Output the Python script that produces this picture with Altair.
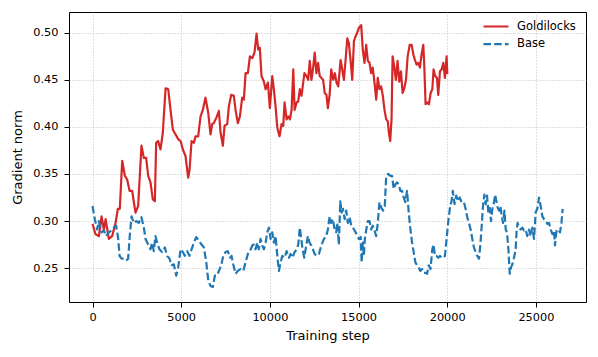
import altair as alt
import pandas as pd

gold_steps = [0, 170, 360, 510, 640, 740, 920, 1110, 1300, 1430, 1540, 1675, 1825, 1955, 2090, 2240, 2330, 2425, 2575, 2760, 2895, 3025, 3140, 3270, 3400, 3515, 3590, 3700, 3835, 3965, 4120, 4270, 4400, 4530, 4680, 4830, 4965, 5095, 5245, 5395, 5475, 5585, 5715, 5810, 5960, 6090, 6220, 6370, 6525, 6655, 6750, 6840, 6990, 7125, 7220, 7350, 7445, 7595, 7690, 7820, 7970, 8065, 8195, 8310, 8440, 8535, 8630, 8760, 8875, 9010, 9135, 9250, 9345, 9435, 9530, 9665, 9760, 9890, 10000, 10135, 10225, 10320, 10420, 10545, 10660, 10755, 10830, 10945, 11040, 11130, 11225, 11320, 11395, 11510, 11600, 11690, 11785, 11880, 11950, 12065, 12160, 12250, 12345, 12440, 12530, 12625, 12720, 12810, 12905, 13000, 13095, 13190, 13270, 13370, 13460, 13575, 13665, 13760, 13855, 13990, 14080, 14175, 14270, 14365, 14455, 14550, 14645, 14740, 14830, 14925, 15015, 15150, 15240, 15335, 15430, 15525, 15620, 15710, 15800, 15900, 15995, 16085, 16180, 16275, 16370, 16465, 16560, 16650, 16710, 16785, 16860, 16920, 17015, 17105, 17200, 17295, 17390, 17485, 17580, 17675, 17770, 17885, 17995, 18090, 18180, 18275, 18370, 18460, 18555, 18650, 18705, 18780, 18880, 18970, 19065, 19160, 19230, 19325, 19420, 19495, 19590, 19685, 19780, 19870, 19965, 20005]
gold_vals = [0.297, 0.286, 0.284, 0.305, 0.291, 0.302, 0.281, 0.284, 0.298, 0.313, 0.313, 0.364, 0.348, 0.344, 0.332, 0.332, 0.320, 0.309, 0.316, 0.380, 0.367, 0.367, 0.348, 0.341, 0.323, 0.321, 0.383, 0.385, 0.376, 0.394, 0.441, 0.440, 0.418, 0.397, 0.392, 0.387, 0.385, 0.376, 0.369, 0.346, 0.355, 0.385, 0.383, 0.390, 0.390, 0.411, 0.418, 0.431, 0.415, 0.392, 0.403, 0.404, 0.410, 0.417, 0.394, 0.380, 0.401, 0.403, 0.422, 0.434, 0.433, 0.418, 0.404, 0.411, 0.431, 0.429, 0.457, 0.457, 0.475, 0.473, 0.479, 0.499, 0.482, 0.484, 0.454, 0.448, 0.440, 0.447, 0.420, 0.454, 0.440, 0.422, 0.399, 0.390, 0.403, 0.401, 0.426, 0.408, 0.411, 0.408, 0.418, 0.461, 0.418, 0.426, 0.427, 0.440, 0.433, 0.447, 0.457, 0.454, 0.450, 0.470, 0.450, 0.463, 0.479, 0.457, 0.468, 0.454, 0.452, 0.450, 0.436, 0.434, 0.420, 0.434, 0.461, 0.450, 0.457, 0.447, 0.443, 0.471, 0.461, 0.450, 0.471, 0.494, 0.489, 0.471, 0.450, 0.491, 0.496, 0.500, 0.505, 0.508, 0.482, 0.468, 0.487, 0.470, 0.468, 0.457, 0.463, 0.447, 0.429, 0.452, 0.440, 0.443, 0.433, 0.418, 0.408, 0.406, 0.394, 0.385, 0.408, 0.475, 0.464, 0.450, 0.470, 0.448, 0.459, 0.436, 0.441, 0.450, 0.475, 0.487, 0.487, 0.477, 0.471, 0.466, 0.468, 0.463, 0.477, 0.487, 0.466, 0.424, 0.426, 0.424, 0.436, 0.440, 0.461, 0.454, 0.452, 0.434, 0.459, 0.461, 0.468, 0.452, 0.475, 0.456]

base_steps = [0, 130, 265, 355, 510, 640, 770, 920, 1070, 1200, 1335, 1450, 1525, 1640, 1765, 1900, 2010, 2100, 2200, 2330, 2465, 2610, 2760, 2895, 2990, 3140, 3270, 3365, 3455, 3550, 3645, 3775, 3925, 4080, 4210, 4345, 4455, 4585, 4720, 4835, 4965, 5095, 5205, 5340, 5470, 5585, 5715, 5850, 5995, 6150, 6280, 6415, 6525, 6655, 6785, 6900, 7030, 7125, 7260, 7370, 7500, 7630, 7745, 7840, 7935, 8065, 8195, 8345, 8500, 8630, 8760, 8875, 9010, 9100, 9195, 9290, 9380, 9475, 9570, 9665, 9760, 9855, 9945, 10040, 10135, 10225, 10320, 10420, 10510, 10605, 10700, 10830, 10945, 11075, 11170, 11280, 11395, 11510, 11600, 11690, 11770, 11845, 11940, 12035, 12145, 12240, 12335, 12430, 12525, 12640, 12765, 12900, 13050, 13180, 13270, 13370, 13460, 13555, 13650, 13745, 13800, 13890, 13970, 14045, 14120, 14215, 14310, 14400, 14495, 14590, 14685, 14780, 14890, 15020, 15120, 15175, 15240, 15300, 15355, 15430, 15525, 15620, 15710, 15800, 15900, 15995, 16085, 16180, 16290, 16385, 16480, 16560, 16670, 16800, 16890, 16985, 17080, 17170, 17265, 17360, 17455, 17545, 17640, 17735, 17830, 17925, 18020, 18110, 18205, 18300, 18390, 18485, 18580, 18675, 18770, 18865, 18960, 19055, 19160, 19230, 19305, 19400, 19495, 19590, 19685, 19780, 19870, 19965, 20050, 20145, 20240, 20315, 20415, 20510, 20600, 20700, 20810, 20940, 21035, 21130, 21225, 21320, 21415, 21505, 21600, 21695, 21790, 21865, 21945, 22015, 22095, 22170, 22245, 22320, 22395, 22470, 22545, 22620, 22700, 22775, 22850, 22925, 23000, 23075, 23150, 23225, 23300, 23370, 23450, 23525, 23600, 23675, 23765, 23860, 23915, 23970, 24045, 24140, 24235, 24325, 24420, 24515, 24610, 24705, 24800, 24895, 24985, 25080, 25175, 25270, 25365, 25460, 25555, 25650, 25740, 25835, 25930, 26020, 26075, 26170, 26270, 26360, 26440, 26510]
base_vals = [0.316, 0.302, 0.291, 0.300, 0.288, 0.290, 0.284, 0.288, 0.290, 0.293, 0.295, 0.281, 0.263, 0.260, 0.260, 0.258, 0.260, 0.284, 0.305, 0.298, 0.300, 0.298, 0.304, 0.293, 0.281, 0.275, 0.270, 0.277, 0.268, 0.284, 0.277, 0.270, 0.267, 0.272, 0.263, 0.260, 0.253, 0.254, 0.242, 0.251, 0.270, 0.267, 0.263, 0.268, 0.263, 0.270, 0.277, 0.283, 0.279, 0.275, 0.272, 0.256, 0.237, 0.231, 0.230, 0.242, 0.242, 0.247, 0.253, 0.263, 0.267, 0.268, 0.261, 0.263, 0.254, 0.244, 0.247, 0.249, 0.247, 0.256, 0.265, 0.268, 0.274, 0.275, 0.270, 0.277, 0.270, 0.281, 0.274, 0.270, 0.277, 0.288, 0.293, 0.281, 0.288, 0.277, 0.284, 0.263, 0.247, 0.256, 0.263, 0.261, 0.268, 0.261, 0.265, 0.261, 0.267, 0.270, 0.275, 0.293, 0.281, 0.270, 0.261, 0.272, 0.284, 0.277, 0.274, 0.270, 0.265, 0.263, 0.265, 0.274, 0.281, 0.284, 0.291, 0.305, 0.298, 0.302, 0.291, 0.288, 0.298, 0.275, 0.321, 0.309, 0.313, 0.302, 0.311, 0.298, 0.304, 0.295, 0.293, 0.290, 0.286, 0.281, 0.283, 0.256, 0.277, 0.263, 0.281, 0.290, 0.300, 0.300, 0.291, 0.295, 0.290, 0.284, 0.298, 0.320, 0.314, 0.311, 0.316, 0.348, 0.350, 0.348, 0.348, 0.334, 0.339, 0.341, 0.339, 0.332, 0.332, 0.325, 0.320, 0.332, 0.309, 0.291, 0.277, 0.267, 0.256, 0.253, 0.251, 0.247, 0.249, 0.245, 0.245, 0.244, 0.253, 0.249, 0.270, 0.275, 0.263, 0.263, 0.261, 0.263, 0.261, 0.261, 0.263, 0.281, 0.298, 0.313, 0.321, 0.332, 0.318, 0.327, 0.321, 0.325, 0.320, 0.320, 0.313, 0.304, 0.298, 0.291, 0.281, 0.272, 0.267, 0.263, 0.260, 0.274, 0.295, 0.316, 0.328, 0.318, 0.327, 0.309, 0.314, 0.300, 0.313, 0.318, 0.328, 0.321, 0.314, 0.311, 0.316, 0.305, 0.298, 0.311, 0.291, 0.288, 0.270, 0.244, 0.251, 0.254, 0.261, 0.270, 0.291, 0.298, 0.293, 0.291, 0.293, 0.290, 0.291, 0.284, 0.291, 0.284, 0.293, 0.281, 0.309, 0.313, 0.325, 0.316, 0.305, 0.302, 0.300, 0.297, 0.298, 0.291, 0.286, 0.290, 0.274, 0.291, 0.290, 0.288, 0.298, 0.313]

series_names = ["Goldilocks", "Base"]
series_colors = ["#d62728", "#1f77b4"]
x_ticks = [0, 5000, 10000, 15000, 20000, 25000]
y_ticks = [0.25, 0.30, 0.35, 0.40, 0.45, 0.50]

df = pd.concat([
    pd.DataFrame({"step": gold_steps, "value": gold_vals, "series": "Goldilocks", "order": range(len(gold_steps))}),
    pd.DataFrame({"step": base_steps, "value": base_vals, "series": "Base", "order": range(len(base_steps))}),
], ignore_index=True)

FONT = "DejaVu Sans"

chart = alt.Chart(df).mark_line(strokeWidth=2.2, strokeJoin="round", clip=True).encode(
    x=alt.X("step:Q", title="Training step",
            scale=alt.Scale(domain=[-1325, 27825], nice=False, zero=False),
            axis=alt.Axis(values=x_ticks, format="d", titlePadding=7)),
    y=alt.Y("value:Q", title="Gradient norm",
            scale=alt.Scale(domain=[0.214, 0.522], nice=False, zero=False),
            axis=alt.Axis(values=y_ticks, format=".2f", titlePadding=8)),
    color=alt.Color("series:N", title=None,
                    scale=alt.Scale(domain=series_names, range=series_colors),
                    sort=series_names),
    strokeDash=alt.StrokeDash("series:N", title=None,
                              scale=alt.Scale(domain=series_names, range=[[1, 0], [7.5, 3.2]]),
                              sort=series_names),
    order="order:Q",
).properties(
    width=517, height=290,
    padding={"left": 61, "top": 4, "right": 4, "bottom": 50},
    autosize=alt.AutoSizeParams(type="none"),
).configure_view(
    stroke="black", strokeWidth=1
).configure_axis(
    domain=False,
    grid=True, gridColor="#b0b0b0", gridDash=[1, 2], gridWidth=0.8,
    tickColor="black", tickSize=5, tickWidth=1,
    labelFont=FONT, labelFontSize=11.3, labelColor="black",
    titleFont=FONT, titleFontSize=13, titleFontWeight="normal", titleColor="black",
    labelPadding=4,
).configure_axisY(
    labelPadding=6
).configure_legend(
    orient="none", legendX=413, legendY=8,
    symbolType="stroke", symbolSize=625, symbolStrokeWidth=2.2,
    labelFont=FONT, labelFontSize=11.5, labelColor="black",
    labelOffset=7, clipHeight=13, rowPadding=4.6, padding=0,
)

chart.save("out.html", embed_options={"renderer": "svg", "actions": False})
